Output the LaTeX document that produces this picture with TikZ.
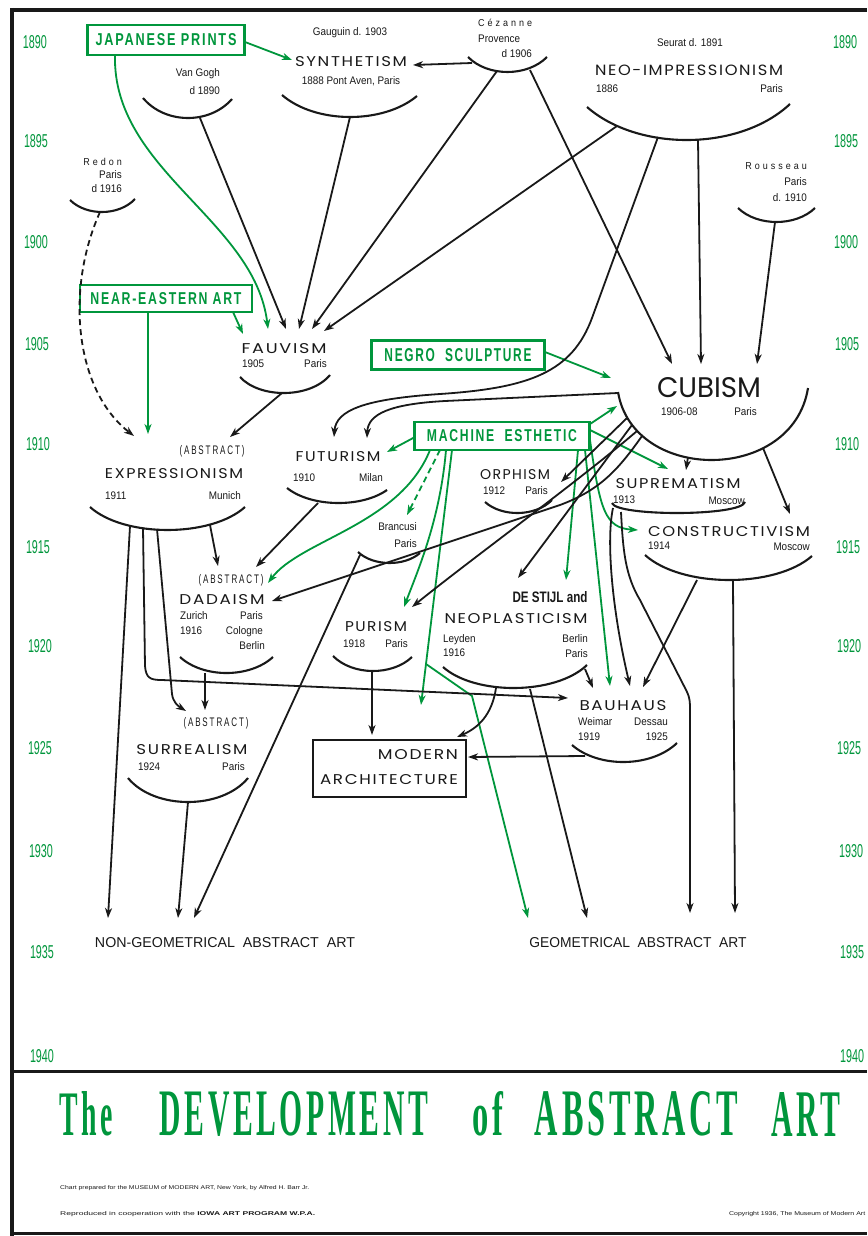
\documentclass[tikz,border=0pt]{standalone}
\usepackage{fontspec}
\usepackage{graphicx}
\usetikzlibrary{arrows.meta}
\newfontfamily\labfont[LetterSpace=10]{Poppins}
\newfontfamily\smfont[FakeStretch=0.9]{Liberation Sans}
\newfontfamily\spsmfont[FakeStretch=0.9,LetterSpace=30]{Liberation Sans}
\newfontfamily\spfont[FakeStretch=0.85,LetterSpace=20]{Liberation Sans}
\newfontfamily\yrfont[FakeStretch=0.6]{Liberation Sans}
\newfontfamily\boxfont[FakeStretch=0.7,LetterSpace=10]{Liberation Sans}
\newfontfamily\ttlfont[FakeStretch=0.5,LetterSpace=6]{Liberation Serif}
\definecolor{barrgreen}{RGB}{0,150,60}
\definecolor{ink}{RGB}{25,25,25}
\newcommand\Lbl[3]{\resizebox{#1pt}{#2pt}{\labfont #3}}
\newcommand\smarc[6]{%
  \pgfmathsetmacro\smA{#1+#6*(#3-#1)}%
  \pgfmathsetmacro\smB{#3-#6*(#3-#1)}%
  \pgfmathsetmacro\smY{(4*#5-0.5*(#2+#4))/3}%
  \draw[arcl] (#1,#2) .. controls (\smA,\smY) and (\smB,\smY) .. (#3,#4);}
\begin{document}
\begin{tikzpicture}[x=1pt,y=-1pt,
  ln/.style={line width=1.8pt, draw=ink},
  ar/.style={ln, -{Stealth[length=10pt,width=7pt,inset=3pt]}},
  gar/.style={ar, draw=barrgreen},
  arcl/.style={line width=2.1pt, draw=ink},
  gbox/.style={draw=barrgreen, line width=2.6pt, text=barrgreen, inner sep=0pt, font=\boxfont\bfseries},
  lab/.style={inner sep=0pt, text=ink},
  sm/.style={inner sep=0pt, text=ink, font=\smfont\fontsize{11}{12}\selectfont},
  spsm/.style={inner sep=0pt, text=ink, font=\spsmfont\fontsize{10}{12}\selectfont},
  yr/.style={inner sep=0pt, text=barrgreen, font=\yrfont}]
\useasboundingbox (0,0) rectangle (867,1236);
\fill[white] (0,0) rectangle (867,1236);
% frame
\draw[line width=3.5pt, ink] (12,8) -- (12,1236);
\draw[line width=4.5pt, ink] (10,10) -- (867,10);
\draw[line width=3pt, ink] (12,1071) -- (867,1071);
\draw[line width=3pt, ink] (12,1233) -- (867,1233);
% years
\foreach \ya/\xl/\xr/\yt in {42/35/845/1890,141/36/846/1895,242/36/846/1900,344/37/847/1905,444/38/847/1910,547/38/848/1915,646/40/849/1920,748/40/849/1925,851/41/851/1930,952/42/852/1935,1056/42/852/1940}{
  \node[yr, name=yl\yt] at (\xl,\ya) {\resizebox{24pt}{13pt}{\yt}};
  \node[yr, name=yr\yt] at (\xr,\ya) {\resizebox{24pt}{13pt}{\yt}};
}
% green boxes
\node[gbox, minimum width=157pt, minimum height=30pt] (jp) at (166,40) {\resizebox{141pt}{12pt}{JAPANESE PRINTS}};
\node[gbox, minimum width=172pt, minimum height=27pt] (nea) at (166,298.5) {\resizebox{151pt}{12pt}{NEAR-EASTERN ART}};
\node[gbox, minimum width=173pt, minimum height=29pt] (ngs) at (458,355) {\resizebox{147pt}{13pt}{NEGRO\ \ SCULPTURE}};
\node[gbox, minimum width=175pt, minimum height=28pt] (mach) at (502,436) {\resizebox{150pt}{12pt}{MACHINE\ \ ESTHETIC}};
% main labels
\node[lab] (synth) at (351,62) {\Lbl{112}{10}{SYNTHETISM}};
\node[lab] (neo) at (689,70) {\Lbl{188}{10.5}{NEO-IMPRESSIONISM}};
\node[lab] (fauv) at (284,349) {\Lbl{85}{10}{FAUVISM}};
\node[lab] (cub) at (709,388) {\resizebox{104pt}{20pt}{\labfont\addfontfeature{LetterSpace=0} CUBISM}};
\node[lab] (expr) at (174,474) {\Lbl{138}{10}{EXPRESSIONISM}};
\node[lab] (fut) at (338,457) {\Lbl{85}{10}{FUTURISM}};
\node[lab] (orph) at (515,475) {\Lbl{70}{10}{ORPHISM}};
\node[lab] (supr) at (678,484) {\Lbl{125}{10}{SUPREMATISM}};
\node[lab] (cons) at (729,532) {\Lbl{162}{10}{CONSTRUCTIVISM}};
\node[lab] (dada) at (222,600) {\Lbl{85}{10}{DADAISM}};
\node[lab] (pur) at (376,627) {\Lbl{62}{10}{PURISM}};
\node[lab] (stijl) at (550,597) {\resizebox{75pt}{11pt}{\smfont\bfseries DE STIJL and}};
\node[lab] (neopl) at (516,619) {\Lbl{143}{10}{NEOPLASTICISM}};
\node[lab] (bau) at (623,706) {\Lbl{87}{10}{BAUHAUS}};
\node[lab] (surr) at (192,750) {\Lbl{111}{10}{SURREALISM}};
\node[lab] (abs1) at (212,451) {\resizebox{65pt}{9pt}{\spfont (ABSTRACT)}};
\node[lab] (abs2) at (231,580) {\resizebox{65pt}{9pt}{\spfont (ABSTRACT)}};
\node[lab] (abs3) at (216,723) {\resizebox{65pt}{9pt}{\spfont (ABSTRACT)}};
\node[draw=ink, line width=2.8pt, minimum width=153pt, minimum height=57pt, inner sep=0pt] (arch) at (389.5,768.5) {};
\node[lab] (archA) at (418,755) {\Lbl{80}{10}{MODERN}};
\node[lab] (archB) at (389,780) {\Lbl{138}{10}{ARCHITECTURE}};
\node[lab] (nongeo) at (225,943) {\resizebox{260pt}{10pt}{\smfont NON-GEOMETRICAL\ \ ABSTRACT\ \ ART}};
\node[lab] (geo) at (638,943) {\resizebox{217pt}{10pt}{\smfont GEOMETRICAL\ \ ABSTRACT\ \ ART}};
% small texts
\node[sm, anchor=mid east] (vg1) at (220,74) {Van Gogh};
\node[sm, anchor=mid east] (vg2) at (220,92) {d 1890};
\node[sm] (gaug) at (350,33) {Gauguin d. 1903};
\node[sm] (synsub) at (351,81) {1888 Pont Aven, Paris};
\node[spsm, anchor=mid west] (cez1) at (478,24) {Cézanne};
\node[sm, anchor=mid west] (cez2) at (478,40) {Provence};
\node[sm, anchor=mid east] (cez3) at (532,55) {d 1906};
\node[sm] (seur) at (690,43) {Seurat d. 1891};
\node[sm, anchor=mid west] (neo1) at (596,90) {1886};
\node[sm, anchor=mid east] (neo2) at (783,90) {Paris};
\node[spsm, anchor=mid east] (rou1) at (807,167) {Rousseau};
\node[sm, anchor=mid east] (rou2) at (807,183) {Paris};
\node[sm, anchor=mid east] (rou3) at (807,199) {d. 1910};
\node[spsm, anchor=mid east] (red1) at (122,163) {Redon};
\node[sm, anchor=mid east] (red2) at (122,176) {Paris};
\node[sm, anchor=mid east] (red3) at (122,190) {d 1916};
\node[sm, anchor=mid west] (fv1) at (242,365) {1905};
\node[sm, anchor=mid east] (fv2) at (327,365) {Paris};
\node[sm, anchor=mid west] (cb1) at (661,413) {1906-08};
\node[sm, anchor=mid east] (cb2) at (757,413) {Paris};
\node[sm, anchor=mid west] (ex1) at (105,497) {1911};
\node[sm, anchor=mid east] (ex2) at (241,497) {Munich};
\node[sm, anchor=mid west] (fu1) at (293,479) {1910};
\node[sm, anchor=mid east] (fu2) at (383,479) {Milan};
\node[sm, anchor=mid west] (or1) at (483,492) {1912};
\node[sm, anchor=mid east] (or2) at (548,492) {Paris};
\node[sm, anchor=mid east] (br1) at (417,528) {Brancusi};
\node[sm, anchor=mid east] (br2) at (417,545) {Paris};
\node[sm, anchor=mid west] (su1) at (613,501) {1913};
\node[sm, anchor=mid east] (su2) at (745,502) {Moscow};
\node[sm, anchor=mid west] (co1) at (648,547) {1914};
\node[sm, anchor=mid east] (co2) at (810,548) {Moscow};
\node[sm, anchor=mid west] (da1) at (180,617) {Zurich};
\node[sm, anchor=mid west] (da2) at (180,632) {1916};
\node[sm, anchor=mid east] (da3) at (263,617) {Paris};
\node[sm, anchor=mid east] (da4) at (263,632) {Cologne};
\node[sm, anchor=mid east] (da5) at (265,647) {Berlin};
\node[sm, anchor=mid west] (pu1) at (343,645) {1918};
\node[sm, anchor=mid east] (pu2) at (408,645) {Paris};
\node[sm, anchor=mid west] (st1) at (443,640) {Leyden};
\node[sm, anchor=mid west] (st2) at (443,654) {1916};
\node[sm, anchor=mid east] (st3) at (588,640) {Berlin};
\node[sm, anchor=mid east] (st4) at (588,655) {Paris};
\node[sm, anchor=mid west] (ba1) at (578,723) {Weimar};
\node[sm, anchor=mid west] (ba2) at (578,738) {1919};
\node[sm, anchor=mid east] (ba3) at (668,723) {Dessau};
\node[sm, anchor=mid east] (ba4) at (668,738) {1925};
\node[sm, anchor=mid west] (sr1) at (138,768) {1924};
\node[sm, anchor=mid east] (sr2) at (245,768) {Paris};
% arcs
\smarc{143}{98}{232}{99}{118}{0.25}
\smarc{282}{95}{417}{96}{117}{0.25}
\smarc{468}{57}{547}{57}{72}{0.25}
\smarc{587}{107}{790}{104}{140}{0.25}
\smarc{738}{208}{815}{208}{222}{0.25}
\smarc{70}{200}{135}{199}{212}{0.25}
\smarc{240}{377}{330}{375}{393}{0.22}
\smarc{618}{392}{808}{388}{460}{0.08}
\smarc{287}{488}{387}{490}{503}{0.25}
\smarc{485}{502}{552}{500}{513}{0.25}
\smarc{358}{552}{420}{553}{563}{0.25}
\smarc{612}{503}{745}{502}{513}{0.03}
\smarc{645}{555}{812}{556}{580}{0.22}
\smarc{90}{507}{245}{507}{530}{0.22}
\smarc{180}{657}{273}{657}{673}{0.25}
\smarc{333}{656}{412}{657}{671}{0.25}
\smarc{443}{667}{587}{665}{688}{0.22}
\smarc{572}{745}{677}{743}{762}{0.25}
\smarc{128}{778}{248}{778}{802}{0.22}
% coordinates
\coordinate (jpE) at (245,42); \coordinate (synthIn) at (292,60);
\coordinate (jpS) at (115,55); \coordinate (fvIn2) at (268,329);
\coordinate (vgB) at (200,118); \coordinate (fvIn3) at (286,329);
\coordinate (syB) at (350,117); \coordinate (fvIn4) at (299,329);
\coordinate (czB1) at (497,71); \coordinate (fvIn5) at (312,329);
\coordinate (neB1) at (617,126); \coordinate (fvIn6) at (324,331);
\coordinate (czL) at (472,63); \coordinate (syE) at (413,65);
\coordinate (czB2) at (530,70); \coordinate (cbIn1) at (672,364);
\coordinate (neB2) at (698,140); \coordinate (cbIn2) at (701,364);
\coordinate (rouB) at (775,222); \coordinate (cbIn3) at (757,364);
\coordinate (neB3) at (658,137); \coordinate (futIn1) at (334,437);
\coordinate (cbL) at (618,393); \coordinate (futIn2) at (367,438);
\coordinate (reB) at (100,212); \coordinate (exIn1) at (134,436);
\coordinate (neaS) at (148,312); \coordinate (exIn2) at (148,434);
\coordinate (neaSE) at (233,312); \coordinate (fvIn1) at (243,334);
\coordinate (fvB) at (282,393); \coordinate (exIn3) at (230,437);
\coordinate (ngE) at (545,352); \coordinate (cbIn4) at (611,378);
\coordinate (meNE) at (590,424); \coordinate (cbIn5) at (617,406);
\coordinate (meW) at (415,437); \coordinate (futIn3) at (387,452);
\coordinate (meS1) at (430,450); \coordinate (dadaIn1) at (268,583);
\coordinate (meS2) at (440,450); \coordinate (brIn) at (407,515);
\coordinate (meS3) at (446,450); \coordinate (purIn1) at (404,607);
\coordinate (meS4) at (452,450); \coordinate (archIn1) at (421,705);
\coordinate (meBr) at (426,664); \coordinate (geoIn1) at (528,918);
\coordinate (meS5) at (578,450); \coordinate (stIn1) at (566,580);
\coordinate (meS6) at (585,450); \coordinate (bauIn1) at (610,686);
\coordinate (meE1) at (590,430); \coordinate (suIn1) at (668,469);
\coordinate (meE2) at (590,440); \coordinate (coIn1) at (638,530);
\coordinate (cbB1) at (627,418); \coordinate (orIn) at (561,482);
\coordinate (cbB2) at (632,425); \coordinate (stIn2) at (518,578);
\coordinate (cbB3) at (637,431); \coordinate (purIn2) at (412,607);
\coordinate (cbB4) at (642,436); \coordinate (dadaIn2) at (272,601);
\coordinate (cbB5) at (688,457); \coordinate (suIn2) at (686,470);
\coordinate (cbB6) at (763,448); \coordinate (coIn2) at (790,514);
\coordinate (suL1) at (613,508); \coordinate (bauIn2) at (630,686);
\coordinate (suL2) at (621,512); \coordinate (geoIn2) at (690,913);
\coordinate (coB1) at (697,580); \coordinate (bauIn3) at (643,687);
\coordinate (coB2) at (733,581); \coordinate (geoIn3) at (735,913);
\coordinate (stR) at (585,669); \coordinate (bauIn4) at (593,688);
\coordinate (stB1) at (496,688); \coordinate (archIn2) at (457,737);
\coordinate (stB2) at (530,689); \coordinate (geoIn4) at (587,918);
\coordinate (bauL) at (585,756); \coordinate (archE) at (468,757);
\coordinate (purB) at (372,671); \coordinate (archIn3) at (372,735);
\coordinate (exB1) at (130,526); \coordinate (ngIn1) at (108,918);
\coordinate (exB2) at (143,528); \coordinate (bauIn5) at (568,698);
\coordinate (exB3) at (157,529); \coordinate (surIn1) at (186,711);
\coordinate (exB4) at (210,525); \coordinate (dadaIn3) at (218,566);
\coordinate (fuB) at (318,503); \coordinate (dadaIn4) at (256,567);
\coordinate (daB) at (205,673); \coordinate (surIn2) at (205,710);
\coordinate (srB) at (188,802); \coordinate (ngIn2) at (178,918);
\coordinate (brL) at (360,555); \coordinate (ngIn3) at (194,918);
% green connectors
\draw[gar] (jpE) -- (synthIn);
\draw[gar] (jpS) .. controls (112,170) and (255,220) .. (fvIn2);
\draw[gar] (neaS) -- (exIn2);
\draw[gar] (neaSE) -- (fvIn1);
\draw[gar] (ngE) -- (cbIn4);
\draw[gar] (meNE) -- (cbIn5);
\draw[gar] (meW) -- (futIn3);
\draw[gar] (meS1) .. controls (400,525) and (300,540) .. (dadaIn1);
\draw[gar, dash pattern=on 6pt off 4pt] (meS2) -- (brIn);
\draw[gar] (meS3) .. controls (440,520) and (418,570) .. (purIn1);
\draw[gar] (meS4) -- (archIn1);
\draw[gar] (meBr) -- (472,696) -- (geoIn1);
\draw[gar] (meS5) -- (stIn1);
\draw[gar] (meS6) -- (bauIn1);
\draw[gar] (meE1) -- (suIn1);
\draw[gar] (meE2) .. controls (600,510) and (605,528) .. (coIn1);
% black connectors
\draw[ar] (vgB) -- (fvIn3);
\draw[ar] (syB) -- (fvIn4);
\draw[ar] (czB1) -- (fvIn5);
\draw[ar] (neB1) -- (fvIn6);
\draw[ar] (czL) -- (syE);
\draw[ar] (czB2) -- (cbIn1);
\draw[ar] (neB2) -- (cbIn2);
\draw[ar] (rouB) -- (cbIn3);
\draw[ar] (neB3) -- (592,318) .. controls (572,372) and (530,388) .. (440,394) .. controls (365,399) and (336,410) .. (futIn1);
\draw[ar] (cbL) -- (445,401) .. controls (390,404) and (368,414) .. (futIn2);
\draw[ar, dash pattern=on 6pt off 4pt] (reB) .. controls (65,290) and (75,390) .. (exIn1);
\draw[ar] (fvB) -- (exIn3);
\draw[ar] (cbB1) -- (orIn);
\draw[ar] (cbB2) -- (stIn2);
\draw[ar] (cbB3) .. controls (580,480) and (470,560) .. (purIn2);
\draw[ar] (cbB4) .. controls (618,470) and (600,490) .. (560,505) -- (dadaIn2);
\draw[ar] (cbB5) -- (suIn2);
\draw[ar] (cbB6) -- (coIn2);
\draw[ar] (suL1) .. controls (606,540) and (612,610) .. (bauIn2);
\draw[ar] (suL2) .. controls (623,550) and (625,575) .. (640,600) -- (684,686) .. controls (690,697) and (690,700) .. (690,712) -- (geoIn2);
\draw[ar] (coB1) -- (bauIn3);
\draw[ar] (coB2) -- (geoIn3);
\draw[ar] (stR) -- (bauIn4);
\draw[ar] (stB1) .. controls (492,715) and (478,728) .. (archIn2);
\draw[ar] (stB2) -- (geoIn4);
\draw[ar] (bauL) -- (archE);
\draw[ar] (purB) -- (archIn3);
\draw[ar] (exB1) -- (ngIn1);
\draw[ar] (exB2) -- (145,666) .. controls (146,678) and (150,680) .. (162,680) -- (bauIn5);
\draw[ar] (exB3) -- (172,694) .. controls (173,702) and (178,706) .. (surIn1);
\draw[ar] (exB4) -- (dadaIn3);
\draw[ar] (fuB) -- (dadaIn4);
\draw[ar] (daB) -- (surIn2);
\draw[ar] (srB) -- (ngIn2);
\draw[ar] (brL) -- (ngIn3);
% title
\node[inner sep=0pt, text=barrgreen, font=\ttlfont\bfseries] (t1) at (86.5,1114) {\resizebox{53pt}{44pt}{The}};
\node[inner sep=0pt, text=barrgreen, font=\ttlfont\bfseries] (t2) at (294,1114) {\resizebox{268pt}{44pt}{DEVELOPMENT}};
\node[inner sep=0pt, text=barrgreen, font=\ttlfont\bfseries] (t3) at (487.5,1114) {\resizebox{31pt}{44pt}{of}};
\node[inner sep=0pt, text=barrgreen, font=\ttlfont\bfseries] (t4) at (636.5,1114) {\resizebox{203pt}{44pt}{ABSTRACT}};
\node[inner sep=0pt, text=barrgreen, font=\ttlfont\bfseries] (t5) at (805.5,1114) {\resizebox{69pt}{44pt}{ART}};
% footer
\node[inner sep=0pt, anchor=west, text=ink, font=\smfont] (f1) at (60,1188) {\resizebox{249pt}{4pt}{Chart prepared for the MUSEUM of MODERN ART, New York, by Alfred H. Barr Jr.}};
\node[inner sep=0pt, anchor=west, text=ink, font=\smfont] (f2) at (60,1214) {\resizebox{255pt}{4pt}{Reproduced in cooperation with the \textbf{IOWA ART PROGRAM W.P.A.}}};
\node[inner sep=0pt, anchor=west, text=ink, font=\smfont] (f3) at (729,1214) {\resizebox{136pt}{4pt}{Copyright 1936, The Museum of Modern Art}};
\end{tikzpicture}
\end{document}
